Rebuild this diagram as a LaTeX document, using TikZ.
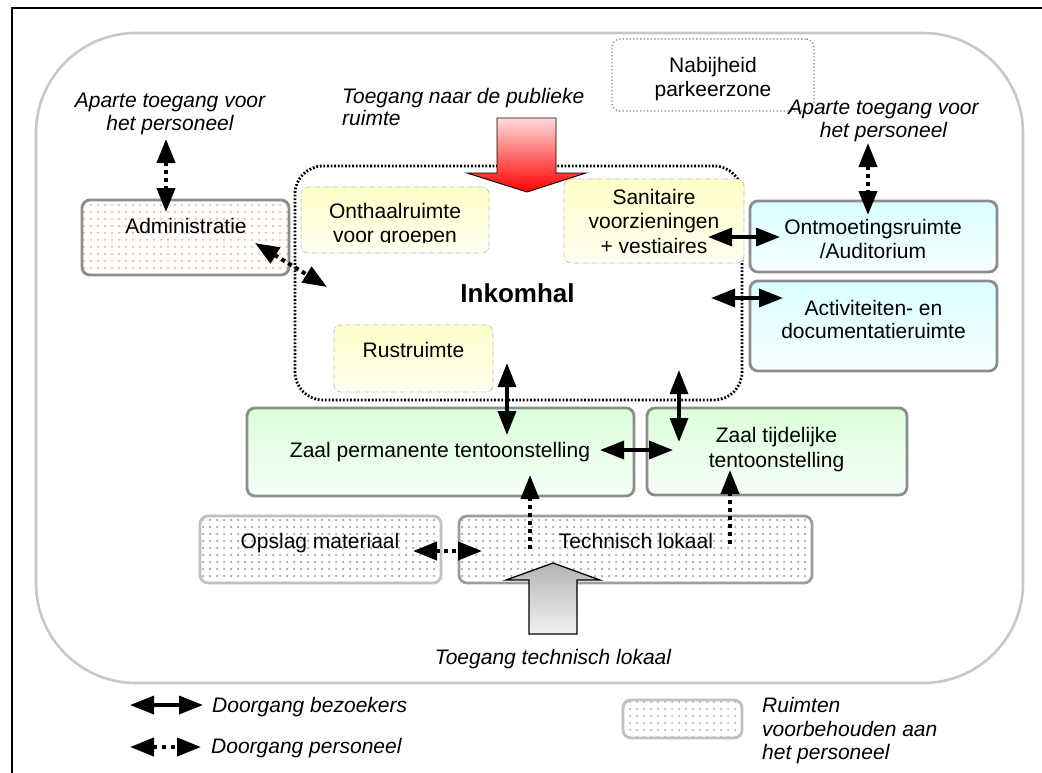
\documentclass[tikz,border=0pt]{standalone}
\usepackage{fontspec}
\setmainfont{Liberation Sans}
\usetikzlibrary{arrows.meta,patterns,patterns.meta}

\tikzdeclarepattern{
  name=roomdots,
  type=uncolored,
  bounding box={(-3.5pt,-3.5pt) and (3.5pt,3.5pt)},
  tile size={(7pt,7pt)},
  code={\fill (0pt,0pt) circle (1.25pt);}
}

\definecolor{framegray}{HTML}{C8C8C8}
\definecolor{boxgray}{HTML}{8C8C8C}
\definecolor{lightboxgray}{HTML}{C0C0C0}
\definecolor{dotgray}{HTML}{A8A8A8}
\definecolor{peach}{HTML}{F2BE96}
\definecolor{yeltop}{HTML}{FFFFC8}
\definecolor{yelbot}{HTML}{FFFFF2}
\definecolor{cyantop}{HTML}{D8FFFF}
\definecolor{cyanbot}{HTML}{F8FFFF}
\definecolor{greentop}{HTML}{DAFFDA}
\definecolor{greenbot}{HTML}{F7FFF7}
\definecolor{redtop}{HTML}{FFDADA}
\definecolor{redbot}{HTML}{FF0000}
\definecolor{graytop}{HTML}{B4B4B4}
\definecolor{graybot}{HTML}{F2F2F2}

\begin{document}
\begin{tikzpicture}[x=1pt,y=-1pt,
  txt/.style={font=\fontsize{21}{24}\selectfont, inner sep=0pt, anchor=base},
  itxt/.style={font=\fontsize{21}{24}\selectfont\itshape, inner sep=0pt, anchor=base},
  iltxt/.style={font=\fontsize{21}{24}\selectfont\itshape, inner sep=0pt, anchor=base west},
  room/.style={draw=boxgray, line width=2.8pt, rounded corners=8pt, inner sep=0pt, rectangle},
  cyanroom/.style={room, top color=cyantop, bottom color=cyanbot},
  greenroom/.style={room, top color=greentop, bottom color=greenbot},
  dotroom/.style={room, pattern=roomdots, pattern color=dotgray},
  subroom/.style={draw=lightboxgray, line width=0.8pt, dash pattern=on 5pt off 1.5pt on 1pt off 1.5pt,
     rounded corners=7pt, inner sep=0pt, rectangle, top color=yeltop, bottom color=yelbot},
  tip/.tip={Triangle[length=24pt,width=18pt]},
  visitor/.style={line width=3.4pt, tip-tip},
  staff/.style={line width=4pt, dash pattern=on 4pt off 4pt, tip-tip},
  staffone/.style={line width=4pt, dash pattern=on 4pt off 4pt, -tip},
]
\useasboundingbox (0,0) rectangle (1042,772);
\fill[white] (0,0) rectangle (1042,772);

% frame
\draw[line width=2pt] (12,775) -- (12,8) -- (1045,8);
% outer building outline
\draw[framegray, line width=2.6pt, rounded corners=100pt] (36,33) rectangle (1023,683);

% Inkomhal
\node[draw, line width=2.8pt, dash pattern=on 1.8pt off 1.8pt, rounded corners=28pt,
      minimum width=447pt, minimum height=234pt, inner sep=0pt] (inkom) at (518.5,283) {};
\node[font=\fontsize{26}{28}\selectfont\bfseries, inner sep=0pt, anchor=base] (inkomt) at (517.5,302) {Inkomhal};

% rooms inside the hall
\node[subroom, minimum width=188pt, minimum height=66pt] (onthaal) at (395,220) {};
\begin{scope}
  \clip (301,187) rectangle (489,242.5);
  \node[txt] (onthaalt1) at (395,218) {Onthaalruimte};
  \node[txt] (onthaalt2) at (395,242) {voor groepen};
\end{scope}
\node[subroom, minimum width=159pt, minimum height=67pt] (rust) at (413.5,358.5) {};
\node[txt] (rustt) at (413.5,357) {Rustruimte};
\node[subroom, minimum width=180pt, minimum height=84pt] (sanit) at (654,221) {};
\node[txt] (sanitt1) at (654,204) {Sanitaire};
\node[txt] (sanitt2) at (654,228) {voorzieningen};
\node[txt] (sanitt3) at (654,253) {+ vestiaires};

% public entrance arrow
\path[draw=black, line width=0.9pt, top color=redtop, bottom color=redbot]
  (497,118) -- (556,118) -- (556,173) -- (586,173) -- (527,192) -- (467,173) -- (497,173) -- cycle;
\node[iltxt] (pub1) at (342,103) {Toegang naar de publieke};
\node[iltxt] (pub2) at (342,125) {ruimte};

% parking
\node[draw=boxgray, line width=1.3pt, dash pattern=on 1.3pt off 2.2pt, rounded corners=8pt,
      minimum width=202pt, minimum height=72pt, inner sep=0pt] (nabij) at (713,75) {};
\node[txt] (nabijt1) at (713,72) {Nabijheid};
\node[txt] (nabijt2) at (713,96) {parkeerzone};

% administration
\node[room, pattern=roomdots, pattern color=peach, minimum width=207pt, minimum height=75pt] (admin) at (185.5,237.5) {};
\node[txt] (admint) at (186,233) {Administratie};
\node[itxt] (acc1a) at (170,107) {Aparte toegang voor};
\node[itxt] (acc1b) at (170,130) {het personeel};

% right rooms
\node[cyanroom, minimum width=247pt, minimum height=71pt] (ontm) at (873.5,236.5) {};
\node[txt] (ontmt1) at (873,234) {Ontmoetingsruimte};
\node[txt] (ontmt2) at (873,258) {/Auditorium};
\node[cyanroom, minimum width=247pt, minimum height=90pt] (activ) at (873.5,326) {};
\node[txt] (activt1) at (873.5,315) {Activiteiten- en};
\node[txt] (activt2) at (873.5,338) {documentatieruimte};
\node[itxt] (acc2a) at (883.5,114) {Aparte toegang voor};
\node[itxt] (acc2b) at (883.5,137) {het personeel};

% exhibition halls
\node[greenroom, minimum width=387pt, minimum height=88pt] (zperm) at (440.5,452) {};
\node[txt] (zpermt) at (440,457) {Zaal permanente tentoonstelling};
\node[greenroom, minimum width=260pt, minimum height=87pt] (ztijd) at (777,451.5) {};
\node[txt] (ztijdt1) at (776.5,442) {Zaal tijdelijke};
\node[txt] (ztijdt2) at (776.5,467) {tentoonstelling};

% staff rooms
\node[dotroom, draw=lightboxgray, minimum width=241pt, minimum height=67pt] (opslag) at (320.5,549.5) {};
\node[txt] (opslagt) at (320,548) {Opslag materiaal};
\node[dotroom, draw=boxgray!85, minimum width=353pt, minimum height=67pt] (tech) at (635.5,549.5) {};
\node[txt] (techt) at (636,548) {Technisch lokaal};

% technical entrance arrow
\path[draw=black, line width=1.3pt, top color=graytop, bottom color=graybot]
  (529,634) -- (529,580) -- (506,580) -- (553,563) -- (600,580) -- (577,580) -- (577,634) -- cycle;
\node[itxt] (techacc) at (553,664) {Toegang technisch lokaal};

% connector end points
\coordinate (p1a) at (166,139);  \coordinate (p1b) at (166,212);
\coordinate (p2a) at (255,243);  \coordinate (p2b) at (327,287);
\coordinate (p3a) at (868,143);  \coordinate (p3b) at (868,215);
\coordinate (v1a) at (708,237);  \coordinate (v1b) at (780,237);
\coordinate (v2a) at (711,298);  \coordinate (v2b) at (783,298);
\coordinate (v3a) at (507,363);  \coordinate (v3b) at (507,435);
\coordinate (v4a) at (679,370);  \coordinate (v4b) at (679,442);
\coordinate (v5a) at (600,450);  \coordinate (v5b) at (673,450);
\coordinate (s1a) at (413,551);  \coordinate (s1b) at (482,551);
\coordinate (s2a) at (530,549);  \coordinate (s2b) at (530,475);
\coordinate (s3a) at (730,544);  \coordinate (s3b) at (730,470);

% connectors
\draw[staff] (p1a) -- (p1b);
\draw[staff] (p2a) -- (p2b);
\draw[staff] (p3a) -- (p3b);
\draw[visitor] (v1a) -- (v1b);
\draw[visitor] (v2a) -- (v2b);
\draw[visitor] (v3a) -- (v3b);
\draw[visitor] (v4a) -- (v4b);
\draw[visitor] (v5a) -- (v5b);
\draw[staff] (s1a) -- (s1b);
\draw[staffone] (s2a) -- (s2b);
\draw[staffone] (s3a) -- (s3b);

% legend
\coordinate (l1a) at (130,705); \coordinate (l1b) at (203,705);
\coordinate (l2a) at (130,747); \coordinate (l2b) at (201,747);
\draw[visitor] (l1a) -- (l1b);
\draw[staff, dash pattern=on 4pt off 5pt] (l2a) -- (l2b);
\node[iltxt] (leg1) at (212,712) {Doorgang bezoekers};
\node[iltxt] (leg2) at (211,753) {Doorgang personeel};
\node[dotroom, draw=lightboxgray, pattern color=dotgray!75, minimum width=119pt, minimum height=38pt] (legbox) at (682.5,719) {};
\node[iltxt] (leg3a) at (762,712) {Ruimten};
\node[iltxt] (leg3b) at (762,736) {voorbehouden aan};
\node[iltxt] (leg3c) at (762,759) {het personeel};
\end{tikzpicture}
\end{document}
